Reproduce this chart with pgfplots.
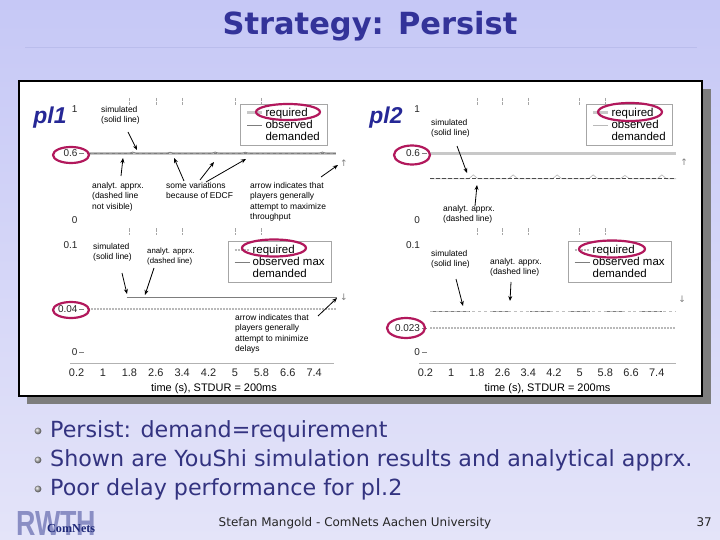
\documentclass[border=0pt]{standalone}
\usepackage{pgfplots}
\pgfplotsset{compat=1.18}
\usepackage{fontspec}
\setmainfont{DejaVu Sans}
\newfontfamily\arial{Liberation Sans}
\newfontfamily\serifb{Liberation Serif}
\usetikzlibrary{arrows.meta}
\definecolor{bgtop}{RGB}{198,200,246}
\definecolor{bgbot}{RGB}{228,228,249}
\definecolor{titleblue}{RGB}{51,51,153}
\definecolor{textblue}{RGB}{51,51,128}
\definecolor{ellred}{RGB}{178,24,92}
\definecolor{reqgray}{RGB}{200,200,200}
\definecolor{obsgray}{RGB}{125,125,125}
\definecolor{plblue}{RGB}{38,40,150}
\definecolor{logogray}{RGB}{138,142,196}
\definecolor{logoblue}{RGB}{30,40,120}
\newcommand\tdash{\rlap{\hspace{2bp}\textcolor{gray}{\rule[0.3em]{5bp}{0.5bp}}}}
\newcommand\annfont{\arial\fontsize{8.5}{10.5}\selectfont}
\pgfplotsset{
  panelbase/.style={scale only axis, xmin=0, xmax=8, clip=false,
    /pgf/number format/assume math mode=true,
    tick label style={font=\arial\fontsize{10}{10}\selectfont, text=black!85},
    ytick style={draw=none},
    legend cell align=left,
    legend style={draw=gray!70, fill=white, line width=0.5bp,
      font=\arial\fontsize{11.5}{11.5}\selectfont, inner xsep=5bp, inner ysep=1.5bp,
      row sep=-1.5bp, anchor=north east},
    legend image code/.code={\draw[##1] (0bp,0bp) -- (15bp,0bp);},
  },
  toppanel/.style={panelbase, width=#1, height=132bp, ymin=-0.1, ymax=1.1,
    axis line style={draw=none},
    xtick={1.8,2.6,3.4,5,5.8}, xticklabels={}, xtick pos=both, ytick pos=left,
    xtick style={gray!70, densely dotted, line width=0.5bp}, tick align=inside,
    major tick length=6bp,
    ytick={0,0.6,1}, yticklabels={0,0.6\tdash,1}},
  bottompanel/.style={panelbase, width=#1, height=118bp, ymin=-0.01, ymax=0.1,
    axis x line*=bottom, axis y line*=left, y axis line style={draw=none},
    x axis line style={gray!60, line width=0.6bp, -},
    xtick={0.2,1,1.8,2.6,3.4,4.2,5,5.8,6.6,7.4}, xtick style={draw=none},
    x tick label style={font=\arial\fontsize{11}{11}\selectfont, yshift=-2.5bp},
    xlabel={time (s), STDUR = 200ms},
    xlabel style={font=\arial\fontsize{11}{11}\selectfont, yshift=0bp}},
}
\begin{document}
\begin{tikzpicture}
\begin{scope}[x=1bp, y=-1bp]
\useasboundingbox (0,0) rectangle (720,540);
\shade[top color=bgtop, bottom color=bgbot] (0,0) rectangle (720,540);
% title
\node[text=titleblue, font=\fontsize{30.6}{30.6}\selectfont\bfseries] at (370,26) {Strategy: Persist};
\draw[color={rgb,255:red,186;green,189;blue,236}, line width=0.8bp] (25,47) -- (697,47);
% frame
\fill[color={rgb,255:red,125;green,125;blue,125}] (27,89) rectangle (711,404);
\fill[white] (19,81) rectangle (702,396);
\draw[black, line width=2.5bp] (19,81) rectangle (702,396);
% panel labels
\node[text=plblue, font=\arial\fontsize{23}{23}\selectfont\bfseries\itshape] at (50,118) {pl1};
\node[text=plblue, font=\arial\fontsize{23}{23}\selectfont\bfseries\itshape] at (386,118) {pl2};
\end{scope}

% ---------- top left
\begin{axis}[toppanel=264bp, at={(70bp,-234bp)}, anchor=south west, height=136bp, ymin=-0.13,
  yticklabel style={xshift=11bp},
  legend style={at={(0.9735,0.955)}}]
\addplot[reqgray, line width=3bp] coordinates {(0.55,0.6) (8.05,0.6)};
\addlegendentry{required}
\addplot[obsgray, line width=0.7bp] coordinates {(0.55,0.6) (1.8,0.6) (1.9,0.612) (2.0,0.6) (2.95,0.6) (3.03,0.61) (3.12,0.6) (4.3,0.6) (4.4,0.612) (4.5,0.6) (5.22,0.6) (5.31,0.61) (5.4,0.6) (7.55,0.6) (7.65,0.612) (7.75,0.6) (8.05,0.6)};
\addlegendentry{observed}
\addlegendimage{white}
\addlegendentry{demanded}
\addplot[obsgray, dashed, line width=0.6bp, forget plot] coordinates {(0.55,0.6) (8.05,0.6)};
\end{axis}

% ---------- top right
\begin{axis}[toppanel=257bp, at={(419bp,-234bp)}, anchor=south west, height=136bp, ymin=-0.13,
  yticklabel style={xshift=4.5bp},
  legend style={at={(0.988,0.955)}}]
\addplot[reqgray, line width=3bp] coordinates {(0.35,0.6) (8,0.6)};
\addlegendentry{required}
\addplot[gray!55, line width=0.6bp] coordinates {(0.35,0.37) (1.55,0.37) (1.69,0.405) (1.83,0.37) (2.79,0.37) (2.93,0.405) (3.07,0.37) (4.16,0.37) (4.3,0.405) (4.44,0.37) (5.28,0.37) (5.42,0.405) (5.56,0.37) (6.27,0.37) (6.41,0.4) (6.55,0.37) (7.42,0.37) (7.56,0.405) (7.7,0.37) (8,0.37)};
\addlegendentry{observed}
\addlegendimage{white}
\addlegendentry{demanded}
\addplot[black!70, dash pattern=on 4bp off 2bp, line width=0.6bp, forget plot] coordinates {(0.35,0.37) (8,0.37)};
\end{axis}

% ---------- bottom left
\begin{axis}[bottompanel=264bp, at={(70bp,-363bp)}, anchor=south west,
  yticklabel style={xshift=11bp},
  xlabel style={xshift=12bp},
  ytick={0,0.04,0.1}, yticklabels={0\tdash,0.04\tdash,0.1},
  legend style={at={(0.992,1.034)}}]
\addplot[gray!55, line width=2.2bp, dash pattern=on 2bp off 1bp] coordinates {(0.55,0.04) (8.05,0.04)};
\addlegendentry{required}
\addplot[obsgray, line width=0.7bp] coordinates {(1.72,0.051) (8.1,0.051)};
\addlegendentry{observed max}
\addlegendimage{white}
\addlegendentry{demanded}
\addplot[obsgray, dashed, line width=0.6bp, forget plot] coordinates {(1.72,0.051) (8.1,0.051)};
\end{axis}

% ---------- bottom right
\begin{axis}[bottompanel=257bp, at={(419bp,-363bp)}, anchor=south west,
  yticklabel style={xshift=4.5bp},
  ytick={0,0.023,0.1}, yticklabels={0\tdash,0.023\tdash,0.1},
  unbounded coords=jump,
  legend style={at={(0.984,1.034)}}]
\addplot[gray!55, line width=2.2bp, dash pattern=on 2bp off 1bp] coordinates {(0.35,0.023) (8,0.023)};
\addlegendentry{required}
\addplot[obsgray, line width=0.7bp] coordinates {(0.35,0.038) (1.6,0.038) (1.6,nan) (2.28,0.038) (2.84,0.038) (2.84,nan) (3.46,0.038) (4.18,0.038) (4.18,nan) (4.64,0.038) (5.32,0.038) (5.32,nan) (5.79,0.038) (6.35,0.038) (6.35,nan) (6.94,0.038) (7.56,0.038)};
\addlegendentry{observed max}
\addlegendimage{white}
\addlegendentry{demanded}
\addplot[gray!50, dashed, line width=0.6bp, forget plot] coordinates {(0.35,0.038) (8,0.038)};
\end{axis}

\begin{scope}[x=1bp, y=-1bp]
% ---------- ellipses
\begin{scope}[ellred, line width=2.2bp]
\draw (288,112) ellipse (32 and 8);
\draw (630,112) ellipse (32 and 9);
\draw (274,248) ellipse (32 and 8.5);
\draw (612,249) ellipse (33 and 8.5);
\draw (71,155) ellipse (18 and 8);
\draw (412,155) ellipse (18 and 9.5);
\draw (71,310) ellipse (18 and 8);
\draw (406,328) ellipse (19 and 10);
\end{scope}

% ---------- annotations
\begin{scope}[every node/.style={font=\annfont, align=left, anchor=north west, inner sep=0pt},
  arr/.style={black, line width=0.8bp, -{Stealth[length=5bp,width=4bp]}}]
% top left
\node at (101,106) {simulated\\(solid line)};
\draw[arr] (128,132) -- (137,150);
\node at (92,182) {analyt. apprx.\\(dashed line\\not visible)};
\draw[arr] (121,176) -- (123,158);
\node at (166,182) {some variations\\because of EDCF};
\draw[arr] (184,181) -- (174,158);
\draw[arr] (200,180) -- (214,162);
\draw[arr] (206,182) -- (246,159);
\node at (250,182) {arrow indicates that\\players generally\\attempt to maximize\\throughput};
\draw[arr] (321,177) -- (338,165);
\node[anchor=center, font=\fontsize{9}{9}\selectfont, text=gray] at (344,163) {↑};
% top right
\node at (431,119) {simulated\\(solid line)};
\draw[arr] (457,146) -- (467,173);
\node at (443,205) {analyt. apprx.\\(dashed line)};
\draw[arr] (475,206) -- (477,185);
\node[anchor=center, font=\fontsize{9}{9}\selectfont, text=gray] at (684,162) {↑};
% bottom left
\node at (93,243) {simulated\\(solid line)};
\draw[arr] (122,273) -- (127,294);
\node[font=\arial\fontsize{7.8}{9.5}\selectfont] at (147,248) {analyt. apprx.\\(dashed line)};
\draw[arr] (154,268) -- (145,295);
\node at (235,314) {arrow indicates that\\players generally\\attempt to minimize\\delays};
\draw[arr] (318,316) -- (337,298);
\node[anchor=center, font=\fontsize{9}{9}\selectfont, text=gray] at (344,297) {↓};
% bottom right
\node at (431,250) {simulated\\(solid line)};
\draw[arr] (456,279) -- (463,306);
\node at (490,258) {analyt. apprx.\\(dashed line)};
\draw[arr] (511,282) -- (510,301);
\node[anchor=center, font=\fontsize{9}{9}\selectfont, text=gray] at (682,299) {↓};
\end{scope}

% ---------- bullets
\foreach \yy/\txt in {437/{Persist: demand=requirement}, 466/{Shown are YouShi simulation results and analytical apprx.}, 495/{Poor delay performance for pl.2}} {
  \shade[ball color=gray!60] (38,\yy-6) circle (3.4);
  \node[anchor=base west, inner sep=0pt, text=textblue, font=\fontsize{22.3}{22.3}\selectfont] at (50,\yy) {\txt};
}
% ---------- footer
\node[anchor=base, inner sep=0pt, text=black!85, font=\fontsize{12}{12}\selectfont] at (355,526) {Stefan Mangold - ComNets Aachen University};
\node[anchor=base east, inner sep=0pt, text=black!85, font=\fontsize{12}{12}\selectfont] at (712,526) {37};
\node[anchor=south west, inner sep=0pt, text=logogray] at (16,536) {\resizebox{80bp}{24bp}{\arial\bfseries RWTH}};
\node[anchor=base west, inner sep=0pt, text=logoblue] at (47,532) {\resizebox{48bp}{!}{\serifb\bfseries ComNets}};
\end{scope}
\end{tikzpicture}
\end{document}
